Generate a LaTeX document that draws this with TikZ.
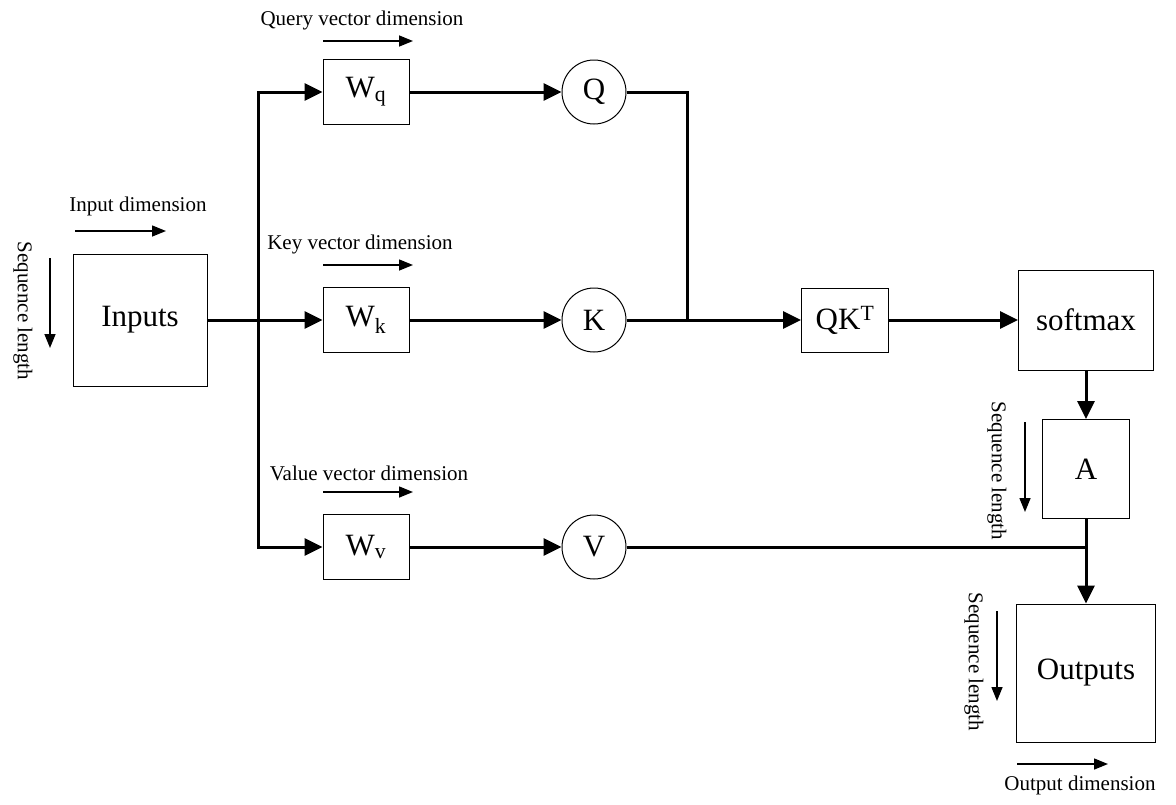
\documentclass[tikz,border=0pt]{standalone}
\usepackage{fontspec}
\setmainfont{Liberation Serif}
\usetikzlibrary{arrows.meta}
\begin{document}
\begin{tikzpicture}[x=1pt,y=-1pt,
  bigfont/.style={font=\fontsize{31}{31}\selectfont},
  box/.style={draw, line width=1pt, minimum width=86pt, minimum height=65pt, inner sep=0pt, bigfont},
  circ/.style={draw, circle, line width=1pt, minimum size=64pt, inner sep=0pt, bigfont},
  conn/.style={line width=3pt, -{Triangle[length=18pt,width=17pt]}},
  wire/.style={line width=3pt},
  dimarrow/.style={line width=1.5pt, -{Triangle[length=14pt,width=11pt]}},
  lbl/.style={font=\fontsize{21}{21}\selectfont, inner sep=0pt},
]
\useasboundingbox (0,0) rectangle (1176,804);
% main nodes
\node[box, minimum width=134pt, minimum height=132pt] (in) at (140,320) {Inputs};
\node[box] (wq) at (366,92) {W\textsubscript{q}};
\node[box] (wk) at (366,320) {W\textsubscript{k}};
\node[box] (wv) at (366,547) {W\textsubscript{v}};
\node[circ] (q) at (594,92) {Q};
\node[circ] (k) at (594,320) {K};
\node[circ] (v) at (594,547) {V};
\node[box, minimum width=87pt, minimum height=64pt] (qk) at (845,320) {QK\textsuperscript{T}};
\node[box, minimum width=135pt, minimum height=100pt] (sm) at (1086,320) {softmax};
\node[box, minimum width=87pt, minimum height=99pt] (a) at (1086,469) {A};
\node[box, minimum width=139pt, minimum height=138pt] (out) at (1086,673) {Outputs};
% connectors
\coordinate (sp) at (258,320);
\coordinate (jn) at (687,320);
\draw[conn] (in.east) -- (wk.west);
\draw[conn] (sp) |- (wq.west);
\draw[conn] (sp) |- (wv.west);
\draw[conn] (wq.east) -- (q.west);
\draw[conn] (wk.east) -- (k.west);
\draw[conn] (wv.east) -- (v.west);
\draw[wire] (q.east) -| (jn);
\draw[conn] (k.east) -- (qk.west);
\draw[conn] (qk.east) -- (sm.west);
\draw[conn] (sm.south) -- (a.north);
\coordinate (vj) at (1086,547);
\draw[wire] (v.east) -- (vj);
\draw[conn] (a.south) -- (out.north);
% dimension labels
\node[lbl] (lin) at (138,206) {Input dimension};
\coordinate (ain1) at (75,231); \coordinate (ain2) at (166,231);
\draw[dimarrow] (ain1) -- (ain2);
\node[lbl, rotate=-90] (lsin) at (23,311) {Sequence length};
\coordinate (asin1) at (50,258); \coordinate (asin2) at (50,348);
\draw[dimarrow] (asin1) -- (asin2);
\node[lbl] (lq) at (362,20) {Query vector dimension};
\coordinate (aq1) at (323,41); \coordinate (aq2) at (413,41);
\draw[dimarrow] (aq1) -- (aq2);
\node[lbl] (lk) at (360,244) {Key vector dimension};
\coordinate (ak1) at (323,265); \coordinate (ak2) at (413,265);
\draw[dimarrow] (ak1) -- (ak2);
\node[lbl] (lv) at (369,473) {Value vector dimension};
\coordinate (av1) at (323,492); \coordinate (av2) at (413,492);
\draw[dimarrow] (av1) -- (av2);
\node[lbl, rotate=-90] (lsa) at (997,471) {Sequence length};
\coordinate (asa1) at (1025,422); \coordinate (asa2) at (1025,512);
\draw[dimarrow] (asa1) -- (asa2);
\node[lbl, rotate=-90] (lso) at (974,662) {Sequence length};
\coordinate (aso1) at (997,611); \coordinate (aso2) at (997,701);
\draw[dimarrow] (aso1) -- (aso2);
\node[lbl] (lo) at (1080,785) {Output dimension};
\coordinate (ao1) at (1017,764); \coordinate (ao2) at (1108,764);
\draw[dimarrow] (ao1) -- (ao2);
\end{tikzpicture}
\end{document}
